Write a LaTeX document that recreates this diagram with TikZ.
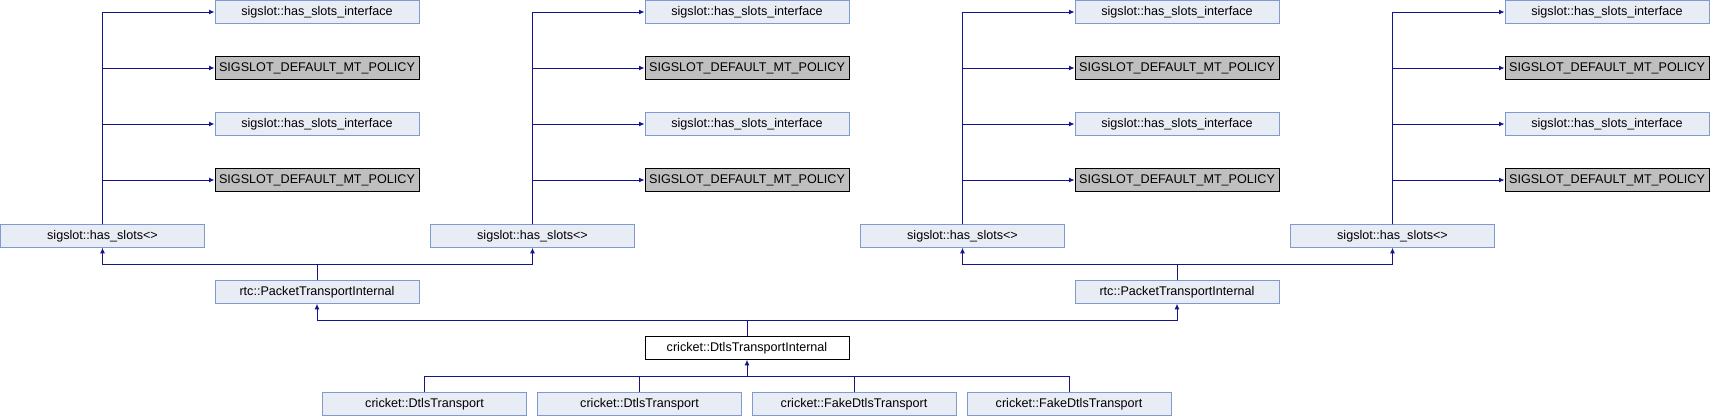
\documentclass[tikz,border=0pt]{standalone}
\usepackage{fontspec}
\setmainfont{Liberation Sans}
\usetikzlibrary{arrows.meta}
\definecolor{edgeblue}{RGB}{20,20,140}
\definecolor{boxfill}{RGB}{232,236,245}
\definecolor{boxline}{RGB}{126,154,208}
\definecolor{grayfill}{RGB}{191,191,191}
\tikzset{
  cls/.style={draw=boxline, fill=boxfill, line width=1pt, minimum width=204pt, minimum height=22.5pt,
    inner sep=0pt, font=\fontsize{12.6}{14}\selectfont},
  undoc/.style={cls, draw=black, fill=grayfill},
  focus/.style={cls, draw=black, fill=white},
  edge/.style={draw=edgeblue, line width=1pt, -{Latex[length=5.5pt,width=5pt]}},
  plain/.style={draw=edgeblue, line width=1pt}
}
\begin{document}
\begin{tikzpicture}[x=1pt,y=-1pt]
\useasboundingbox (0,0) rectangle (1710,416);
% top boxes, 4 columns
\foreach \k/\cx in {1/317,2/747,3/1177,4/1607}{
  \node[cls]   (t\k a) at (\cx,12)  {sigslot::has\_slots\_interface};
  \node[undoc] (t\k b) at (\cx,68)  {SIGSLOT\_DEFAULT\_MT\_POLICY};
  \node[cls]   (t\k c) at (\cx,124) {sigslot::has\_slots\_interface};
  \node[undoc] (t\k d) at (\cx,180) {SIGSLOT\_DEFAULT\_MT\_POLICY};
}
\foreach \k/\cx in {1/102.5,2/532.5,3/962.5,4/1392.5}{
  \node[cls] (hs\k) at (\cx,236) {sigslot::has\_slots<>};
  \draw[edge] (hs\k.north) |- (t\k a.west);
  \draw[edge] (hs\k.north) |- (t\k b.west);
  \draw[edge] (hs\k.north) |- (t\k c.west);
  \draw[edge] (hs\k.north) |- (t\k d.west);
}
\node[cls] (rtc1) at (317,292) {rtc::PacketTransportInternal};
\node[cls] (rtc2) at (1177,292) {rtc::PacketTransportInternal};
\coordinate (j1) at (317,264);
\coordinate (j2) at (1177,264);
\draw[plain] (rtc1.north) -- (j1);
\draw[edge] (j1) -| (hs1.south);
\draw[edge] (j1) -| (hs2.south);
\draw[plain] (rtc2.north) -- (j2);
\draw[edge] (j2) -| (hs3.south);
\draw[edge] (j2) -| (hs4.south);
\node[focus] (dti) at (747,348) {cricket::DtlsTransportInternal};
\coordinate (j3) at (747,320);
\draw[plain] (dti.north) -- (j3);
\draw[edge] (j3) -| (rtc1.south);
\draw[edge] (j3) -| (rtc2.south);
\node[cls] (b1) at (424.5,404) {cricket::DtlsTransport};
\node[cls] (b2) at (639.5,404) {cricket::DtlsTransport};
\node[cls] (b3) at (854,404) {cricket::FakeDtlsTransport};
\node[cls] (b4) at (1069,404) {cricket::FakeDtlsTransport};
\coordinate (j4) at (747,376);
\draw[edge] (j4) -- (dti.south);
\foreach \b in {b1,b2,b3,b4}{
  \draw[plain] (\b.north) |- (j4);
}
\end{tikzpicture}
\end{document}
